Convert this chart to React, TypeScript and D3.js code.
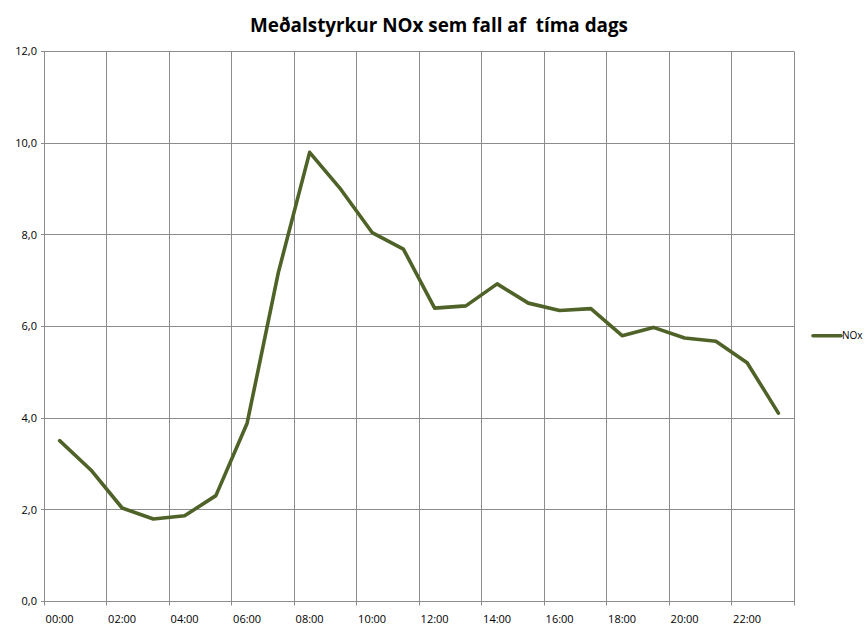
import React from "react";
import * as d3 from "d3";

const title = "Meðalstyrkur NOx sem fall af  tíma dags";
const seriesName = "NOx";
const hours = [
  "00:00", "01:00", "02:00", "03:00", "04:00", "05:00", "06:00", "07:00",
  "08:00", "09:00", "10:00", "11:00", "12:00", "13:00", "14:00", "15:00",
  "16:00", "17:00", "18:00", "19:00", "20:00", "21:00", "22:00", "23:00",
];
const noxValues = [
  3.51, 2.87, 2.04, 1.8, 1.87, 2.31, 3.89, 7.18, 9.8, 8.99, 8.05, 7.69,
  6.4, 6.45, 6.93, 6.51, 6.35, 6.39, 5.8, 5.98, 5.75, 5.68, 5.21, 4.11,
];
const yTicks = [0, 2, 4, 6, 8, 10, 12];
const xLabelHours = ["00:00", "02:00", "04:00", "06:00", "08:00", "10:00", "12:00", "14:00", "16:00", "18:00", "20:00", "22:00"];

const W = 866;
const H = 628;
const left = 44;
const right = 794;
const top = 51.5;
const bottom = 601.5;
const gridColor = "#8c8c8c";
const lineColor = "#4f6228";
const font = "'Open Sans', 'Noto Sans', sans-serif";

export default function App() {
  const x = d3.scaleBand<string>().domain(hours).range([left, right]).padding(0);
  const y = d3.scaleLinear().domain([0, 12]).range([bottom, top]);
  const cx = (h: string) => (x(h) ?? 0) + x.bandwidth() / 2;

  const line = d3
    .line<number>()
    .x((_, i) => cx(hours[i]))
    .y((d) => y(d));

  // vertical gridlines at every 2nd category boundary
  const boundaries = hours
    .map((h, i) => ({ h, i }))
    .filter((d) => d.i % 2 === 0)
    .map((d) => x(d.h) ?? 0)
    .concat([right]);

  const crisp = (v: number) => Math.round(v - 0.5) + 0.5;

  return (
    <svg width={W} height={H} style={{ position: "absolute", left: 0, top: 0, background: "#fff" }}>
      <rect x={0} y={0} width={W} height={H} fill="#fff" />
      <text
        x={439}
        y={32}
        textAnchor="middle"
        fontFamily={font}
        fontWeight="bold"
        fontSize={19}
        textLength={378}
        lengthAdjust="spacingAndGlyphs"
        fill="#000"
        style={{ whiteSpace: "pre" }}
      >
        {title}
      </text>

      {/* horizontal gridlines */}
      {yTicks.map((t) => (
        <g key={"y" + t}>
          <line x1={left - 3} x2={right} y1={crisp(y(t))} y2={crisp(y(t))} stroke={gridColor} strokeWidth={1} />
          <text
            x={37}
            y={y(t)}
            dy="0.35em"
            textAnchor="end"
            fontFamily={font}
            fontSize={11}
            fill="#000"
          >
            {d3.format(".1f")(t).replace(".", ",")}
          </text>
        </g>
      ))}

      {/* vertical gridlines + ticks */}
      {boundaries.map((bx, i) => (
        <line key={"v" + i} x1={crisp(bx)} x2={crisp(bx)} y1={top} y2={bottom + 4} stroke={gridColor} strokeWidth={1} />
      ))}

      {xLabelHours.map((h) => (
        <text key={h} x={cx(h)} y={623} textAnchor="middle" fontFamily={font} fontSize={11} fill="#000">
          {h}
        </text>
      ))}

      <path
        d={line(noxValues) ?? ""}
        fill="none"
        stroke={lineColor}
        strokeWidth={3.6}
        strokeLinejoin="round"
        strokeLinecap="round"
      />

      {/* legend */}
      <line x1={813} x2={841} y1={335.7} y2={335.7} stroke={lineColor} strokeWidth={3.6} strokeLinecap="round" />
      <text x={842} y={335.7} dy="0.35em" fontFamily={font} fontSize={10} fill="#000">
        {seriesName}
      </text>
    </svg>
  );
}
